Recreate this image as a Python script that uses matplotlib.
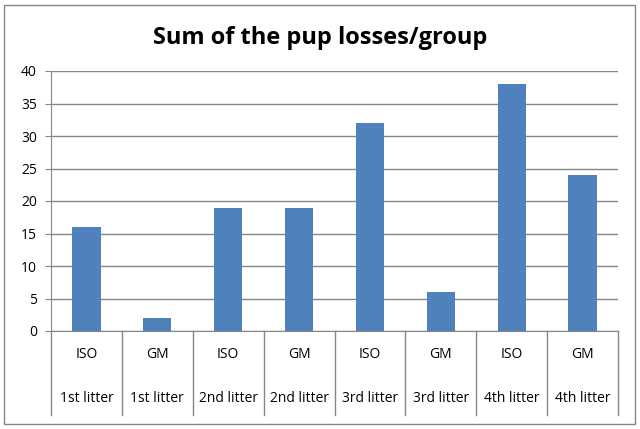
import matplotlib.pyplot as plt
import matplotlib.patches as mpatches
import matplotlib.transforms as mtransforms
import numpy as np

BAR = "#4f81bd"
GRID = "#868686"
TEXT = "#000000"

groups = ["ISO", "GM", "ISO", "GM", "ISO", "GM", "ISO", "GM"]
litters = ["1st litter", "1st litter", "2nd litter", "2nd litter",
           "3rd litter", "3rd litter", "4th litter", "4th litter"]
losses = [16, 2, 19, 19, 32, 6, 38, 24]
yticks = [0, 5, 10, 15, 20, 25, 30, 35, 40]

plt.rcParams["font.family"] = ["Open Sans", "DejaVu Sans"]

fig = plt.figure(figsize=(6.4, 4.29), dpi=100)
ax = fig.add_axes([51 / 640, 1 - 331 / 429, 567 / 640, 260 / 429])

# outer chart border
fig.patches.append(mpatches.Rectangle(
    (4 / 640, 1 - 424 / 429), 631 / 640, 419 / 429,
    transform=fig.transFigure, fill=False, edgecolor=GRID, linewidth=1.0))

x = np.arange(len(losses))
ax.bar(x, losses, width=0.4, color=BAR, zorder=3)

ax.set_xlim(-0.5, len(losses) - 0.5)
ax.set_ylim(0, 40)
ax.set_yticks(yticks)
ax.yaxis.grid(True, color=GRID, linewidth=1.0, zorder=0)
ax.tick_params(axis="y", length=4, color=GRID, labelsize=10, pad=6,
               labelcolor=TEXT)
ax.set_xticks([])

for name in ["top", "right"]:
    ax.spines[name].set_visible(False)
ax.spines["left"].set_color(GRID)
ax.spines["bottom"].set_color(GRID)

# two-level category axis
trans = mtransforms.blended_transform_factory(ax.transData, ax.transAxes)
for xi in np.arange(-0.5, len(losses), 1.0):
    ax.plot([xi, xi], [0, -0.323], transform=trans, color=GRID,
            linewidth=1.0, clip_on=False)
for xi, g, l in zip(x, groups, litters):
    ax.text(xi, -0.092, g, transform=trans, ha="center", va="center",
            fontsize=10, color=TEXT)
    ax.text(xi, -0.258, l, transform=trans, ha="center", va="center",
            fontsize=10, color=TEXT)

fig.text(0.5, 1 - 38 / 429, "Sum of the pup losses/group", ha="center",
         va="center", fontsize=17, fontweight="bold", color=TEXT)

fig.savefig("out.png", dpi=100, facecolor="white")
